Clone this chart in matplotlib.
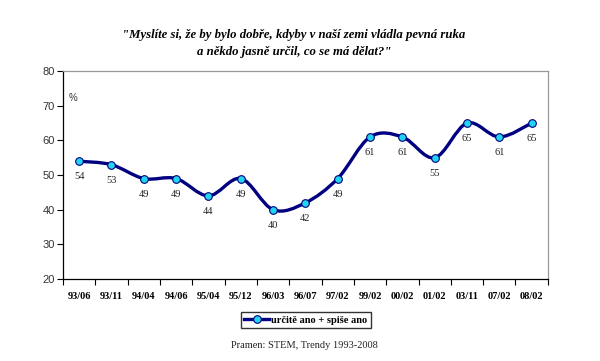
import matplotlib.pyplot as plt
from matplotlib.path import Path
from matplotlib.patches import PathPatch
from matplotlib.lines import Line2D
import numpy as np

# Survey data
periods = ['93/06', '93/11', '94/04', '94/06', '95/04', '95/12', '96/03', '96/07',
           '97/02', '99/02', '00/02', '01/02', '03/11', '07/02', '08/02']
values = [54, 53, 49, 49, 44, 49, 40, 42, 49, 61, 61, 55, 65, 61, 65]
series_label = 'určitě ano + spiše ano'

title = '"Myslíte si, že by bylo dobře, kdyby v naší zemi vládla pevná ruka\na někdo jasně určil, co se má dělat?"'
source = 'Pramen: STEM, Trendy 1993-2008'

serif = 'Liberation Serif'
navy = '#000080'
cyan = '#22D4F0'


def smooth_path(x, y):
    """Excel-like smoothed line: cubic Bezier segments through the points."""
    pts = np.column_stack([x, y]).astype(float)
    n = len(pts)
    verts = [pts[0]]
    codes = [Path.MOVETO]
    for i in range(n - 1):
        p0 = pts[i - 1] if i > 0 else pts[i]
        p1 = pts[i]
        p2 = pts[i + 1]
        p3 = pts[i + 2] if i + 2 < n else pts[i + 1]
        c1 = p1 + (p2 - p0) / 6
        c2 = p2 - (p3 - p1) / 6
        verts += [c1, c2, p2]
        codes += [Path.CURVE4] * 3
    return Path(verts, codes)


fig = plt.figure(figsize=(6, 3.61), dpi=100)
ax = fig.add_axes([0.105, 0.227, 0.808, 0.576])

x = np.arange(len(periods))

# Smoothed line + markers
ax.add_patch(PathPatch(smooth_path(x, values), facecolor='none', edgecolor=navy,
                       linewidth=2.4, capstyle='round', joinstyle='round', zorder=2))
ax.plot(x, values, linestyle='none', marker='o', markersize=5.5,
        markerfacecolor=cyan, markeredgecolor=navy, markeredgewidth=0.8, zorder=3)

# Data labels below points
for xi, v in zip(x, values):
    ax.annotate(str(v), (xi, v), xytext=(0, -8), textcoords='offset points',
                ha='center', va='top', fontsize=7.5, family=serif, color='#222222')

ax.set_xlim(-0.5, len(periods) - 0.5)
ax.set_ylim(20, 80)

# Category axis: ticks between categories, labels centered
ax.set_xticks(np.arange(-0.5, len(periods), 1))
ax.set_xticklabels([])
ax.set_xticks(x, minor=True)
ax.set_xticklabels(periods, minor=True, fontsize=7.5, family=serif, fontweight='bold')
ax.tick_params(axis='x', which='major', direction='out', length=4, width=0.8)
ax.tick_params(axis='x', which='minor', length=0, pad=9)

ax.set_yticks(np.arange(20, 81, 10))
ax.set_yticklabels([str(t) for t in range(20, 81, 10)], fontsize=8,
                   family='Liberation Sans', color='#333333')
ax.tick_params(axis='y', direction='out', length=4, width=0.8, pad=2)

ax.spines['left'].set_color('black')
ax.spines['bottom'].set_color('black')
ax.spines['top'].set_color('#999999')
ax.spines['right'].set_color('#999999')
for s in ax.spines.values():
    s.set_linewidth(0.9)

ax.text(0.02, 0.87, '%', transform=ax.transAxes, fontsize=7, family='Liberation Sans',
        color='#333333', ha='center', va='center')

fig.text(0.49, 0.88, title, ha='center', va='center', fontsize=9.2, family=serif,
         fontweight='bold', fontstyle='italic', linespacing=1.5)

handle = Line2D([], [], color=navy, linewidth=2.4, marker='o', markersize=5.5,
                markerfacecolor=cyan, markeredgecolor=navy, markeredgewidth=0.8)
leg = fig.legend([handle], [series_label], loc='center', bbox_to_anchor=(0.51, 0.113),
                 frameon=True, fancybox=False, handlelength=2.4, handletextpad=0.2,
                 borderpad=0.3, prop={'family': serif, 'weight': 'bold', 'size': 7.5})
leg.get_frame().set_edgecolor('black')
leg.get_frame().set_linewidth(1.0)

fig.text(0.507, 0.044, source, ha='center', va='center', fontsize=7.5, family=serif,
         color='#222222')

fig.savefig('out.png', dpi=100)
